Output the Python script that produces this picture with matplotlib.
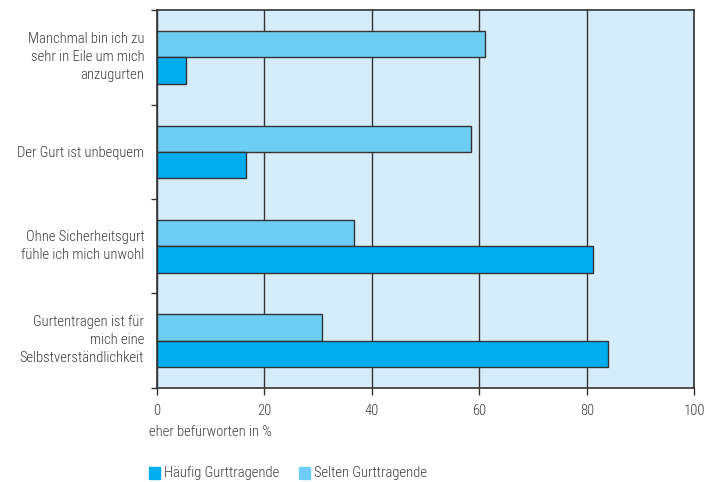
import matplotlib.pyplot as plt
import matplotlib.patches as mpatches
import matplotlib.transforms as mtransforms
import numpy as np
from matplotlib import font_manager as fm

# pick a condensed sans (in a light/regular weight) if one is available
light_fonts = {}
for f in fm.fontManager.ttflist:
    w = f.weight if isinstance(f.weight, int) else 400
    if w <= 400 and f.style == 'normal':
        light_fonts.setdefault(f.name, []).append(w)
prefs = ['Open Sans Condensed', 'Roboto Condensed', 'Fira Sans Condensed', 'PT Sans Narrow',
         'Asap Condensed', 'Archivo Narrow', 'Liberation Sans Narrow', 'Lato']
font = next((p for p in prefs if p in light_fonts), 'Lato')
fw = min(light_fonts.get(font, [300]), key=lambda w: abs(w - 300))
plt.rcParams['font.family'] = [font, 'DejaVu Sans']

# Data
categories = ['Manchmal bin ich zu\nsehr in Eile um mich\nanzugurten',
              'Der Gurt ist unbequem',
              'Ohne Sicherheitsgurt\nfühle ich mich unwohl',
              'Gurtentragen ist für\nmich eine\nSelbstverständlichkeit']
selten = [61.0, 58.4, 36.7, 30.8]   # Selten Gurttragende
haeufig = [5.5, 16.7, 81.1, 83.9]   # Häufig Gurttragende
xticks = [0, 20, 40, 60, 80, 100]

c_bg = '#d5edfa'
c_light = '#6dcdf5'
c_dark = '#00adef'
c_line = '#333333'
c_text = '#3a3a3a'
fs = 10.5

fig = plt.figure(figsize=(7.08, 4.82), dpi=100)
ax = fig.add_axes([0.2213, 0.1956, 0.7595, 0.783])
ax.set_facecolor(c_bg)

y = np.arange(len(categories))
h = 0.279
ax.barh(y - h / 2, selten, height=h, color=c_light, edgecolor=c_line, linewidth=1, zorder=3)
ax.barh(y + h / 2, haeufig, height=h, color=c_dark, edgecolor=c_line, linewidth=1, zorder=3)

ax.set_xlim(0, 100)
ax.set_ylim(len(categories) - 0.5, -0.5)

ax.set_xticks(xticks)
ax.set_xticklabels([str(v) for v in xticks], fontsize=fs, color=c_text, fontweight=fw)
ax.xaxis.grid(True, color=c_line, linewidth=1, zorder=1)
ax.set_axisbelow(True)

ax.set_yticks(y)
ax.set_yticklabels(categories, fontsize=fs, color=c_text, linespacing=1.35, fontweight=fw)
ax.tick_params(axis='y', which='major', length=0, pad=9)
ax.set_yticks(np.arange(-0.5, len(categories), 1), minor=True)
ax.tick_params(axis='y', which='minor', length=4, width=1, color=c_line)
ax.tick_params(axis='x', length=5, width=1, color=c_line, pad=7)

# nudge the multi-line labels up a little
shift = mtransforms.ScaledTranslation(0, 4 / 100, fig.dpi_scale_trans)
for lab in ax.get_yticklabels():
    if '\n' in lab.get_text():
        lab.set_transform(lab.get_transform() + shift)

for s in ax.spines.values():
    s.set_color(c_line)
    s.set_linewidth(1.2)

ax.set_xlabel('eher befürworten in %', fontsize=fs, color=c_text, fontweight=fw)
ax.xaxis.set_label_coords(-0.014, -0.1)
ax.xaxis.label.set_horizontalalignment('left')

# Legend
fig.patches.append(mpatches.Rectangle((149 / 708, 1 - 479 / 482), 11 / 708, 12 / 482,
                                      transform=fig.transFigure, color=c_dark))
fig.text(164 / 708, 1 - 473 / 482, 'Häufig Gurttragende', fontsize=fs, color=c_text,
         va='center', fontweight=fw)
fig.patches.append(mpatches.Rectangle((299 / 708, 1 - 479 / 482), 11 / 708, 12 / 482,
                                      transform=fig.transFigure, color=c_light))
fig.text(314 / 708, 1 - 473 / 482, 'Selten Gurttragende', fontsize=fs, color=c_text,
         va='center', fontweight=fw)

fig.savefig('out.png', dpi=100)
